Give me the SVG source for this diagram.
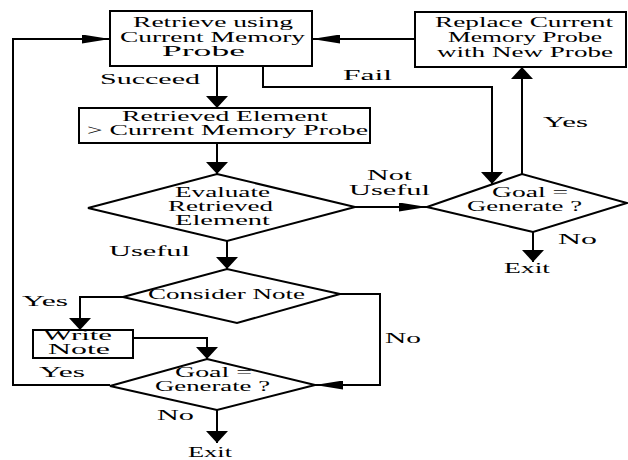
<svg xmlns="http://www.w3.org/2000/svg" width="628" height="460" viewBox="0 0 628 460">
<style>
.box{fill:#fff;stroke:#000;stroke-width:2}
.ln{fill:none;stroke:#000;stroke-width:2}
.t{font-family:"Liberation Serif","Times New Roman",serif;font-size:14px;fill:#000}
</style>
<defs>
<marker id="av" markerUnits="userSpaceOnUse" viewBox="0 -11 12 22" markerWidth="12" markerHeight="22" refX="12" refY="0" orient="auto"><path d="M0,-11 L12,0 L0,11 Z" fill="#000"/></marker>
<marker id="ah" markerUnits="userSpaceOnUse" viewBox="0 -4.5 28 9" markerWidth="28" markerHeight="9" refX="28" refY="0" orient="auto"><path d="M0,-4.5 L28,0 L0,4.5 Z" fill="#000"/></marker>
</defs>
<rect width="628" height="460" fill="#fff"/>
<g id="connectors">
<polyline class="ln" points="217,66 217,108" marker-end="url(#av)"/>
<polyline class="ln" points="217,143 217,174" marker-end="url(#av)"/>
<polyline class="ln" points="227,241 227,269" marker-end="url(#av)"/>
<polyline class="ln" points="355,207 427,207" marker-end="url(#ah)"/>
<polyline class="ln" points="263,66 263,87 492,87 492,184" marker-end="url(#av)"/>
<polyline class="ln" points="522,174 522,67" marker-end="url(#av)"/>
<polyline class="ln" points="415,39 312,39" marker-end="url(#ah)"/>
<polyline class="ln" points="533,232 533,262" marker-end="url(#av)"/>
<polyline class="ln" points="123,297 80,297 80,330" marker-end="url(#av)"/>
<polyline class="ln" points="133,338 207,338 207,359" marker-end="url(#av)"/>
<polyline class="ln" points="340,294 380,294 380,385 315,385" marker-end="url(#ah)"/>
<polyline class="ln" points="110,385 13,385 13,39 110,39" marker-end="url(#ah)"/>
<polyline class="ln" points="217,410 217,443" marker-end="url(#av)"/>
</g>
<g id="retrieve">
<rect class="box" x="110" y="11" width="202" height="55"/>
<text class="t" x="133" y="27" textLength="160" lengthAdjust="spacingAndGlyphs">Retrieve using</text>
<text class="t" x="120" y="42" textLength="185" lengthAdjust="spacingAndGlyphs">Current Memory</text>
<text class="t" x="162" y="56" textLength="83" lengthAdjust="spacingAndGlyphs">Probe</text>
</g>
<g id="replace">
<rect class="box" x="415" y="12" width="211" height="55"/>
<text class="t" x="435" y="27" textLength="178" lengthAdjust="spacingAndGlyphs">Replace Current</text>
<text class="t" x="448" y="42" textLength="154" lengthAdjust="spacingAndGlyphs">Memory Probe</text>
<text class="t" x="437" y="57" textLength="176" lengthAdjust="spacingAndGlyphs">with New Probe</text>
</g>
<g id="retrieved-element">
<rect class="box" x="79" y="108" width="291" height="35"/>
<text class="t" x="122" y="121" textLength="206" lengthAdjust="spacingAndGlyphs">Retrieved Element</text>
<text class="t" x="87" y="135" textLength="281" lengthAdjust="spacingAndGlyphs">&gt; Current Memory Probe</text>
</g>
<g id="evaluate">
<polygon class="box" points="217,174 355,207 227,241 88,208"/>
<text class="t" x="175" y="197" textLength="95" lengthAdjust="spacingAndGlyphs">Evaluate</text>
<text class="t" x="168" y="211" textLength="105" lengthAdjust="spacingAndGlyphs">Retrieved</text>
<text class="t" x="175" y="225" textLength="95" lengthAdjust="spacingAndGlyphs">Element</text>
</g>
<g id="goal-right">
<polygon class="box" points="427,207 522,174 627,203 533,232"/>
<text class="t" x="492" y="197" textLength="76" lengthAdjust="spacingAndGlyphs">Goal =</text>
<text class="t" x="467" y="211" textLength="115" lengthAdjust="spacingAndGlyphs">Generate ?</text>
</g>
<g id="consider">
<polygon class="box" points="123,297 227,269 340,294 237,323"/>
<text class="t" x="148" y="299" textLength="157" lengthAdjust="spacingAndGlyphs">Consider Note</text>
</g>
<g id="write-note">
<rect class="box" x="33" y="330" width="100" height="28"/>
<text class="t" x="43" y="340" textLength="69" lengthAdjust="spacingAndGlyphs">Write</text>
<text class="t" x="48" y="354" textLength="62" lengthAdjust="spacingAndGlyphs">Note</text>
</g>
<g id="goal-bottom">
<polygon class="box" points="207,359 315,385 217,410 110,386"/>
<text class="t" x="175" y="377" textLength="77" lengthAdjust="spacingAndGlyphs">Goal =</text>
<text class="t" x="155" y="391" textLength="115" lengthAdjust="spacingAndGlyphs">Generate ?</text>
</g>
<g id="labels">
<text class="t" x="100" y="84" textLength="100" lengthAdjust="spacingAndGlyphs">Succeed</text>
<text class="t" x="343" y="80" textLength="49" lengthAdjust="spacingAndGlyphs">Fail</text>
<text class="t" x="367" y="180" textLength="45" lengthAdjust="spacingAndGlyphs">Not</text>
<text class="t" x="349" y="195" textLength="81" lengthAdjust="spacingAndGlyphs">Useful</text>
<text class="t" x="543" y="127" textLength="45" lengthAdjust="spacingAndGlyphs">Yes</text>
<text class="t" x="558" y="244" textLength="39" lengthAdjust="spacingAndGlyphs">No</text>
<text class="t" x="504" y="273" textLength="46" lengthAdjust="spacingAndGlyphs">Exit</text>
<text class="t" x="109" y="256" textLength="81" lengthAdjust="spacingAndGlyphs">Useful</text>
<text class="t" x="22" y="306" textLength="46" lengthAdjust="spacingAndGlyphs">Yes</text>
<text class="t" x="385" y="343" textLength="36" lengthAdjust="spacingAndGlyphs">No</text>
<text class="t" x="39" y="377" textLength="46" lengthAdjust="spacingAndGlyphs">Yes</text>
<text class="t" x="157" y="420" textLength="37" lengthAdjust="spacingAndGlyphs">No</text>
<text class="t" x="188" y="457" textLength="44" lengthAdjust="spacingAndGlyphs">Exit</text>
</g>
</svg>
